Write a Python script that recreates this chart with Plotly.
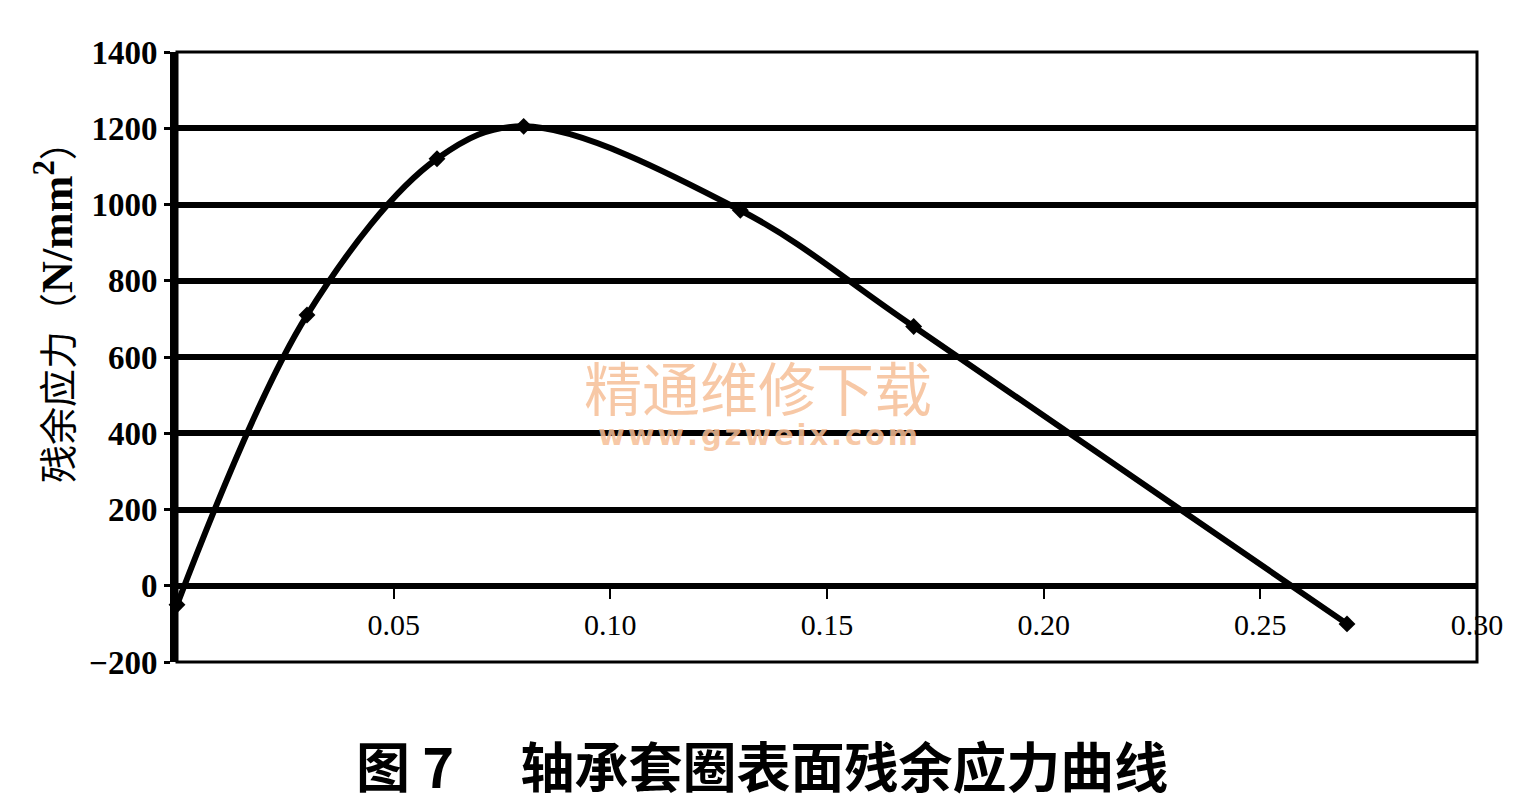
import plotly.graph_objects as go

# Data
depth = [0.0, 0.03, 0.06, 0.08, 0.13, 0.17, 0.27]
stress = [-50, 710, 1120, 1205, 985, 680, -100]

x_ticks = [0.05, 0.10, 0.15, 0.20, 0.25, 0.30]
x_tick_text = ["0.05", "0.10", "0.15", "0.20", "0.25", "0.30"]
y_ticks = [-200, 0, 200, 400, 600, 800, 1000, 1200, 1400]
y_tick_text = ["\u2212200", "0", "200", "400", "600", "800", "1000", "1200", "1400"]

Y_MIN, Y_MAX = -200, 1400
X_MIN, X_MAX = 0.0, 0.30

fig = go.Figure()
fig.add_trace(go.Scatter(
    x=depth, y=stress, mode="lines+markers",
    line=dict(color="black", width=6, shape="spline", smoothing=1.0),
    marker=dict(symbol="diamond", size=13, color="black"),
    showlegend=False, cliponaxis=False,
))

# x axis crosses at y = 0
x_pos = (0 - Y_MIN) / (Y_MAX - Y_MIN)

fig.update_layout(
    width=1521, height=809,
    margin=dict(l=177, r=44, t=52, b=147),
    paper_bgcolor="white", plot_bgcolor="white",
    xaxis=dict(
        range=[X_MIN, X_MAX], anchor="free", position=x_pos,
        tickvals=x_ticks, ticktext=x_tick_text,
        ticks="outside", ticklen=10, tickwidth=2, tickcolor="black",
        showline=True, linecolor="black", linewidth=6,
        showgrid=False, zeroline=False,
        tickfont=dict(family="Liberation Serif", size=30, color="black"),
    ),
    yaxis=dict(
        range=[Y_MIN, Y_MAX], tickvals=y_ticks, ticktext=y_tick_text,
        ticks="outside", ticklen=6, tickwidth=3, tickcolor="black",
        showline=True, linecolor="black", linewidth=7,
        showgrid=True, gridcolor="black", gridwidth=6,
        zeroline=False,
        tickfont=dict(family="Liberation Serif", size=33, color="black", weight="bold"),
    ),
    shapes=[dict(type="rect", xref="paper", yref="paper", x0=0, x1=1, y0=0, y1=1,
                 line=dict(color="black", width=3), layer="above")],
)

# y-axis title
fig.add_annotation(
    x=-0.094, y=0.59, xref="paper", yref="paper", textangle=-90,
    xanchor="center", yanchor="middle",
    text="残余应力（<b><span style='font-family:Liberation Serif;font-size:44px'>N/mm<sup>2</sup></span></b>）",
    showarrow=False, font=dict(family="Noto Sans CJK SC", size=38, color="black"),
)

# watermark
fig.add_annotation(
    x=0.447, y=0.453, xref="paper", yref="paper",
    text="精通维修下载", showarrow=False,
    font=dict(family="Noto Sans CJK SC", size=58, color="rgba(246,190,150,0.85)"),
)
fig.add_annotation(
    x=0.447, y=0.372, xref="paper", yref="paper",
    text="<b>" + "\u200a".join("www.gzweix.com") + "</b>", showarrow=False,
    font=dict(family="DejaVu Sans", size=29, color="rgba(246,190,150,0.85)"),
)

# caption
fig.add_annotation(
    x=0.45, y=-0.168, xref="paper", yref="paper", yanchor="middle",
    text="<b>图 7　 轴承套圈表面残余应力曲线</b>", showarrow=False, borderpad=0,
    font=dict(family="Noto Sans CJK SC", size=54, color="black"),
)

fig.write_html("out.html", config={"displayModeBar": False})

# remove the default page margin so the figure fills the window exactly
with open("out.html", encoding="utf-8") as f:
    html = f.read()
html = html.replace("<body>", "<body style=\"margin:0;overflow:hidden\">", 1)
with open("out.html", "w", encoding="utf-8") as f:
    f.write(html)
